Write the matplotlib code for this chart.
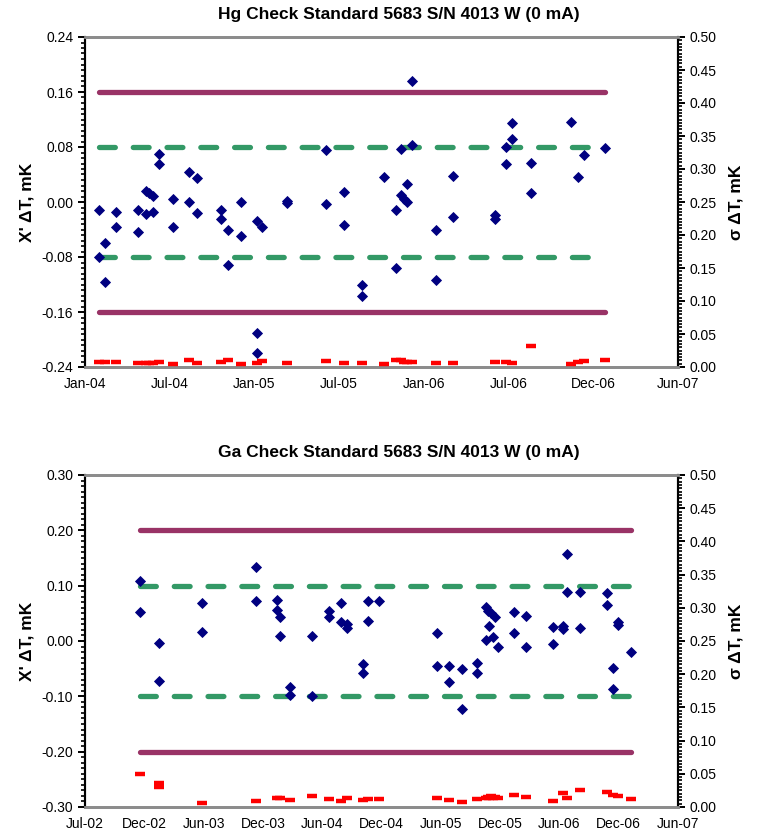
import matplotlib
matplotlib.use("Agg")
import matplotlib.pyplot as plt
import matplotlib.dates as mdates
from matplotlib.ticker import MultipleLocator, FormatStrFormatter
import pandas as pd

plt.rcParams['font.family'] = ['Liberation Sans', 'DejaVu Sans']
plt.rcParams['axes.unicode_minus'] = False

# ---- Hg check standard (top) ----
hg_dates = ['2004-02-07', '2004-02-07', '2004-02-19', '2004-02-19', '2004-03-14', '2004-03-14',
            '2004-04-30', '2004-04-30', '2004-05-17', '2004-05-17', '2004-05-24', '2004-06-01',
            '2004-06-01', '2004-06-14', '2004-06-14', '2004-07-13', '2004-07-13', '2004-08-17',
            '2004-08-17', '2004-09-04', '2004-09-04', '2004-10-25', '2004-10-25', '2004-11-09',
            '2004-11-09', '2004-12-06', '2004-12-06', '2005-01-10', '2005-01-10', '2005-01-10',
            '2005-01-20', '2005-03-14', '2005-03-14', '2005-06-05', '2005-06-05', '2005-07-14',
            '2005-07-14', '2005-08-21', '2005-08-21', '2005-10-07', '2005-11-03', '2005-11-03',
            '2005-11-13', '2005-11-13', '2005-11-20', '2005-11-25', '2005-11-25', '2005-12-07',
            '2005-12-07', '2006-01-27', '2006-01-27', '2006-03-04', '2006-03-04', '2006-06-01',
            '2006-06-01', '2006-06-25', '2006-06-25', '2006-07-09', '2006-07-09', '2006-08-18',
            '2006-08-18', '2006-11-11', '2006-11-26', '2006-12-10', '2007-01-23']
hg_dev = [-0.012, -0.080, -0.059, -0.117, -0.015, -0.036,
          -0.012, -0.044, 0.016, -0.018, 0.013, 0.009,
          -0.014, 0.070, 0.056, 0.004, -0.036, 0.043,
          -0.000, 0.035, -0.016, -0.012, -0.025, -0.040,
          -0.091, 0.000, -0.050, -0.028, -0.190, -0.220,
          -0.036, 0.001, -0.001, 0.075, -0.003, 0.014,
          -0.034, -0.121, -0.136, 0.037, -0.011, -0.096,
          0.077, 0.010, 0.005, 0.000, 0.026, 0.176,
          0.083, -0.041, -0.113, 0.038, -0.022, -0.019,
          -0.024, 0.080, 0.056, 0.115, 0.092, 0.057,
          0.013, 0.116, 0.037, 0.068, 0.078]
hg_sig_dates = ['2004-02-07', '2004-02-19', '2004-03-14', '2004-04-30', '2004-05-17', '2004-05-24',
                '2004-06-01', '2004-06-14', '2004-07-13', '2004-08-17', '2004-09-04', '2004-10-25',
                '2004-11-09', '2004-12-06', '2005-01-10', '2005-01-20', '2005-03-14', '2005-06-05',
                '2005-07-14', '2005-08-21', '2005-10-07', '2005-11-03', '2005-11-13', '2005-11-20',
                '2005-11-25', '2005-12-07', '2006-01-27', '2006-03-04', '2006-06-01', '2006-06-25',
                '2006-07-09', '2006-08-18', '2006-11-11', '2006-11-26', '2006-12-10', '2007-01-23']
hg_sig = [0.007, 0.007, 0.007, 0.006, 0.006, 0.006,
          0.006, 0.007, 0.004, 0.011, 0.006, 0.007,
          0.010, 0.005, 0.006, 0.009, 0.006, 0.009,
          0.006, 0.006, 0.005, 0.010, 0.011, 0.008,
          0.007, 0.007, 0.006, 0.006, 0.008, 0.007,
          0.006, 0.032, 0.005, 0.007, 0.009, 0.011]
hg_limits = [0.16, 0.08]          # solid and dashed control limits
hg_ticks_start = '2004-01-08'

# ---- Ga check standard (bottom) ----
ga_dates = ['2002-12-16', '2002-12-16', '2003-02-12', '2003-02-12', '2003-06-22', '2003-06-22',
            '2003-12-04', '2003-12-04', '2004-02-06', '2004-02-06', '2004-02-17', '2004-02-17',
            '2004-03-18', '2004-03-18', '2004-05-23', '2004-05-23', '2004-07-16', '2004-07-16',
            '2004-08-20', '2004-08-20', '2004-09-07', '2004-09-07', '2004-10-27', '2004-10-27',
            '2004-11-12', '2004-11-12', '2004-12-13', '2005-06-08', '2005-06-08', '2005-07-17',
            '2005-07-17', '2005-08-24', '2005-08-24', '2005-10-10', '2005-10-10', '2005-11-06',
            '2005-11-06', '2005-11-13', '2005-11-16', '2005-11-21', '2005-11-28', '2005-12-03',
            '2005-12-12', '2006-01-30', '2006-01-30', '2006-03-07', '2006-03-07', '2006-05-30',
            '2006-05-30', '2006-06-28', '2006-06-28', '2006-07-12', '2006-07-12', '2006-08-21',
            '2006-08-21', '2006-11-09', '2006-11-09', '2006-11-29', '2006-11-29', '2006-12-13',
            '2006-12-13', '2007-01-22']
ga_dev = [0.108, 0.052, -0.004, -0.072, 0.069, 0.016,
          0.133, 0.073, 0.074, 0.056, 0.044, 0.009,
          -0.084, -0.098, 0.009, -0.099, 0.055, 0.044,
          0.068, 0.034, 0.030, 0.023, -0.042, -0.057,
          0.072, 0.036, 0.072, 0.015, -0.046, -0.046,
          -0.074, -0.051, -0.122, -0.039, -0.057, 0.062,
          0.001, 0.054, 0.028, 0.050, 0.008, 0.044,
          -0.011, 0.052, 0.014, 0.046, -0.011, 0.026,
          -0.006, 0.027, 0.021, 0.157, 0.088, 0.088,
          0.023, 0.086, 0.065, -0.049, -0.087, 0.035,
          0.029, -0.019]
ga_sig_dates = ['2002-12-16', '2003-02-12', '2003-02-12', '2003-06-22', '2003-12-04', '2004-02-06',
                '2004-02-17', '2004-03-18', '2004-05-23', '2004-07-16', '2004-08-20', '2004-09-07',
                '2004-10-27', '2004-11-12', '2004-12-13', '2005-06-08', '2005-07-17', '2005-08-24',
                '2005-10-10', '2005-11-06', '2005-11-13', '2005-11-16', '2005-11-21', '2005-11-28',
                '2005-12-03', '2005-12-12', '2006-01-30', '2006-03-07', '2006-05-30', '2006-06-28',
                '2006-07-12', '2006-08-21', '2006-11-09', '2006-11-29', '2006-12-13', '2007-01-22']
ga_sig = [0.050, 0.036, 0.030, 0.006, 0.009, 0.013,
          0.013, 0.011, 0.017, 0.012, 0.009, 0.014,
          0.010, 0.012, 0.012, 0.013, 0.011, 0.008,
          0.012, 0.013, 0.015, 0.014, 0.016, 0.014,
          0.015, 0.013, 0.018, 0.015, 0.009, 0.021,
          0.013, 0.025, 0.022, 0.018, 0.016, 0.012]
ga_limits = [0.20, 0.10]
ga_ticks_start = '2002-07-01'

PURPLE = '#993366'
GREEN = '#339966'
NAVY = '#000080'
GRAY = '#8c8c8c'


def draw_panel(ax, title, title_y, dates, dev, sig_dates, sig, limits, tick_start, nticks,
               ymax, ymajor, yminor):
    d = pd.to_datetime(dates)
    sd = pd.to_datetime(sig_dates)
    ticks = [pd.Timestamp(tick_start) + pd.Timedelta(days=181 * k) for k in range(nticks)]
    x0, x1 = d.min(), d.max()

    ax.plot([x0, x1], [limits[0]] * 2, color=PURPLE, lw=3.8, solid_capstyle='round', zorder=2)
    ax.plot([x0, x1], [-limits[0]] * 2, color=PURPLE, lw=3.8, solid_capstyle='round', zorder=2)
    for v in (limits[1], -limits[1]):
        ax.plot([x0, x1], [v, v], color=GREEN, lw=3.8, dashes=(3.0, 3.4),
                dash_capstyle='round', zorder=2)
    ax.plot(d, dev, 'D', color=NAVY, ms=5.6, mew=0.6, zorder=4, clip_on=False)

    ax.set_xlim(ticks[0], ticks[-1])
    ax.set_ylim(-ymax, ymax)
    ax.set_xticks(ticks)
    ax.xaxis.set_major_formatter(mdates.DateFormatter('%b-%y'))
    ax.yaxis.set_major_locator(MultipleLocator(ymajor))
    ax.yaxis.set_minor_locator(MultipleLocator(yminor))
    ax.yaxis.set_major_formatter(FormatStrFormatter('%.2f'))
    ax.tick_params(axis='x', length=0, labelsize=10, pad=7)
    ax.tick_params(axis='y', which='major', direction='out', length=5, width=1.4, labelsize=10)
    ax.tick_params(axis='y', which='minor', direction='out', length=3, width=1.2)
    ax.set_ylabel("X' \u0394T, mK", fontsize=12.5, fontweight='bold', labelpad=5)

    ax2 = ax.twinx()
    ax2.plot(sd, sig, '_', color='red', ms=7, mew=3.2, zorder=3, clip_on=False)
    ax2.set_ylim(0, 0.5)
    ax2.yaxis.set_major_locator(MultipleLocator(0.05))
    ax2.yaxis.set_minor_locator(MultipleLocator(0.005))
    ax2.yaxis.set_major_formatter(FormatStrFormatter('%.2f'))
    ax2.tick_params(axis='y', which='major', direction='out', length=5, width=1.4, labelsize=10)
    ax2.tick_params(axis='y', which='minor', direction='out', length=3, width=1.2)
    ax2.set_ylabel("\u03c3 \u0394T, mK", fontsize=12.5, fontweight='bold', labelpad=8)

    for a in (ax, ax2):
        a.spines['top'].set_color(GRAY)
        a.spines['bottom'].set_color(GRAY)
        a.spines['top'].set_linewidth(2)
        a.spines['bottom'].set_linewidth(2)
        a.spines['left'].set_linewidth(1.5)
        a.spines['right'].set_linewidth(1.5)

    fig.text(399 / 766, title_y, title, ha='center', va='center', fontsize=12.5, fontweight='bold')


fig = plt.figure(figsize=(7.66, 8.40), dpi=100)
ax_top = fig.add_axes([85 / 766, 473 / 840, 593 / 766, 330 / 840])
ax_bot = fig.add_axes([85 / 766, 33 / 840, 593 / 766, 332 / 840])

draw_panel(ax_top, 'Hg Check Standard 5683 S/N 4013 W (0 mA)', 1 - 15 / 840,
           hg_dates, hg_dev, hg_sig_dates, hg_sig, hg_limits, hg_ticks_start, 8,
           0.24, 0.08, 0.008)
draw_panel(ax_bot, 'Ga Check Standard 5683 S/N 4013 W (0 mA)', 1 - 453 / 840,
           ga_dates, ga_dev, ga_sig_dates, ga_sig, ga_limits, ga_ticks_start, 11,
           0.30, 0.10, 0.01)

fig.savefig('out.png', dpi=100)
